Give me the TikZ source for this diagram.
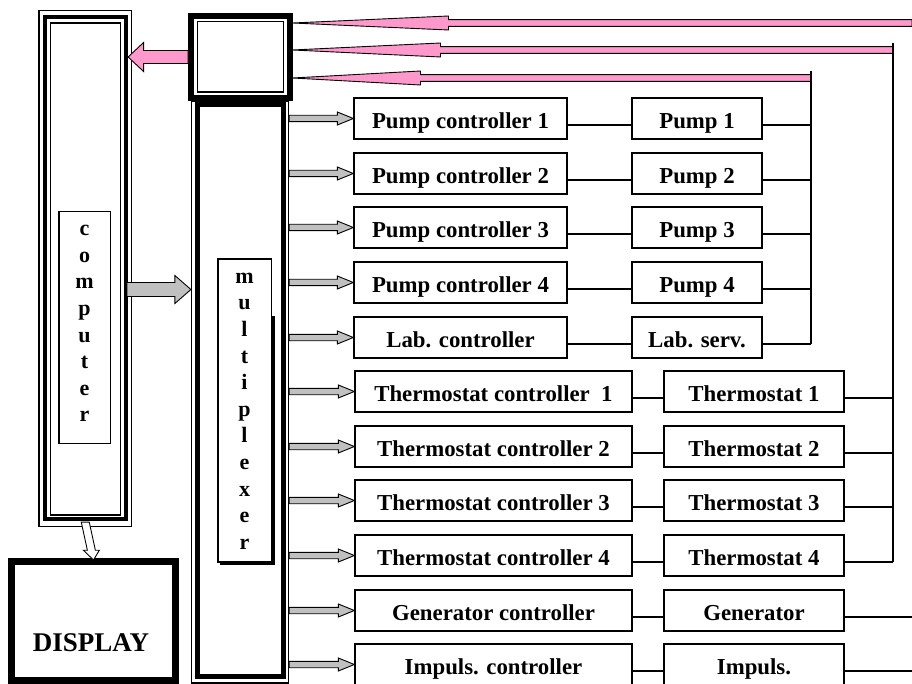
\documentclass[tikz,border=0pt]{standalone}
\usepackage{fontspec}
\setmainfont{Liberation Serif}
\usetikzlibrary{calc}
\definecolor{pinkA}{HTML}{FF99CC}
\definecolor{grayA}{HTML}{C0C0C0}
% horizontal block arrow: style, from, tip, shaft half, head half, head length
\newcommand{\blockarr}[6]{%
  \draw[#1] ($(#2)+(0,#4)$) -- ($(#3)!#6!(#2)+(0,#4)$) -- ($(#3)!#6!(#2)+(0,#5)$) -- (#3)
    -- ($(#3)!#6!(#2)+(0,-#5)$) -- ($(#3)!#6!(#2)+(0,-#4)$) -- ($(#2)+(0,-#4)$) -- cycle;}
% vertical block arrow
\newcommand{\vblockarr}[6]{%
  \draw[#1] ($(#2)+(#4,0)$) -- ($(#3)!#6!(#2)+(#4,0)$) -- ($(#3)!#6!(#2)+(#5,0)$) -- (#3)
    -- ($(#3)!#6!(#2)+(-#5,0)$) -- ($(#3)!#6!(#2)+(-#4,0)$) -- ($(#2)+(-#4,0)$) -- cycle;}
\begin{document}
\begin{tikzpicture}[x=1pt,y=-1pt,
  box/.style={draw, line width=1.3pt, inner sep=0pt, minimum height=41pt,
    text height=19.8pt, text depth=0pt, font=\fontsize{22.8}{26}\selectfont\bfseries},
  pctrl/.style={box, minimum width=213pt},
  pdev/.style={box, minimum width=130pt},
  tctrl/.style={box, minimum width=277pt},
  tdev/.style={box, minimum width=180pt},
  frame/.style={draw, inner sep=0pt},
  letter/.style={font=\fontsize{22}{24}\selectfont\bfseries, inner sep=0pt, anchor=base},
  link/.style={line width=1.5pt},
  grayarr/.style={fill=grayA, draw=black, line width=0.9pt},
  pinkarr/.style={fill=pinkA, draw=black, line width=0.9pt},
  whitearr/.style={fill=white, draw=black, line width=0.9pt}]
\useasboundingbox (0,0) rectangle (912,684);

% computer frame
\node[frame, line width=1.2pt, minimum width=92.5pt, minimum height=516pt] (compO) at (85.25,268.5) {};
\node[frame, line width=4pt, minimum width=80.8pt, minimum height=502pt] (compT) at (85.1,268) {};
\node[frame, line width=1.8pt, minimum width=70pt, minimum height=492pt] (compI) at (85.5,269) {};
\node[frame, line width=1.5pt, minimum width=51.5pt, minimum height=231.5pt] (complab) at (84.5,327.5) {};
\foreach \ch [count=\k from 0] in {c,o,m,p,u,t,e,r}
  \node[letter] (cl\k) at (84.5,{236+26.5*\k}) {\ch};

% multiplexer top box
\node[frame, line width=6pt, minimum width=98.5pt, minimum height=82pt] (mtopO) at (240.25,57) {};
\node[frame, line width=1.5pt, minimum width=86pt, minimum height=70.5pt] (mtopI) at (240.5,56.75) {};

% multiplexer tall box
\node[frame, line width=1.2pt, minimum width=97pt, minimum height=582pt] (muxO) at (240,392) {};
\node[frame, line width=5.5pt, minimum width=86pt, minimum height=572pt] (muxT) at (240.5,390.5) {};
\fill[black] (220,316) rectangle (274.5,564.5);
\node[frame, fill=white, line width=1.5pt, minimum width=53.5pt, minimum height=303pt] (muxlab) at (244.5,410.5) {};
\foreach \ch [count=\k from 0] in {m,u,l,t,i,p,l,e,x,e,r}
  \node[letter] (ml\k) at (244.5,{283.3+26.6*\k}) {\ch};

% display
\node[frame, line width=7pt, minimum width=164pt, minimum height=119pt] (dispbox) at (93.5,621) {};
\node[font=\fontsize{27}{30}\selectfont\bfseries, inner sep=0pt, anchor=base] (disptext) at (91,651) {DISPLAY};

% rows
\foreach \i/\yy/\a/\b in {0/118.5/{Pump controller 1}/{Pump 1},1/173.5/{Pump controller 2}/{Pump 2},
    2/227.5/{Pump controller 3}/{Pump 3},3/282.5/{Pump controller 4}/{Pump 4},
    4/337.5/{Lab. controller\hspace{33pt}}/{Lab. serv.}}{
  \node[pctrl] (c\i) at (460.5,\yy) {\a};
  \node[pdev] (d\i) at (697,\yy) {\b};
}
\foreach \i/\yy/\a/\b in {5/391.5/{Thermostat controller\ \ 1}/{Thermostat 1},6/446.5/{Thermostat controller 2}/{Thermostat 2},
    7/500.5/{Thermostat controller 3}/{Thermostat 3},8/555.5/{Thermostat controller 4}/{Thermostat 4},
    9/610.5/{Generator controller}/{Generator},10/664.5/{Impuls. controller}/{Impuls.}}{
  \node[tctrl] (c\i) at (493.5,\yy) {\a};
  \node[tdev] (d\i) at (754,\yy) {\b};
}

% controller -> device links and gray arrows
\foreach \i in {0,...,10}{
  \draw[link] ([yshift=-6.5pt]c\i.east) -- ([yshift=-6.5pt]d\i.west);
  \coordinate (ga\i) at (muxO.east |- c\i.west);
  \blockarr{grayarr}{ga\i}{c\i.west}{3.2}{6.5}{16pt}
}

% pink feedback arrows and buses
\coordinate (pe1) at (912,23);
\coordinate (pe2) at (893,50);
\coordinate (pe3) at (811,78);
\coordinate (pt1) at (mtopO.east |- pe1);
\coordinate (pt2) at (mtopO.east |- pe2);
\coordinate (pt3) at (mtopO.east |- pe3);
\blockarr{pinkarr}{pe1}{pt1}{3.4}{7}{156pt}
\blockarr{pinkarr}{pe2}{pt2}{3.4}{7}{148pt}
\blockarr{pinkarr}{pe3}{pt3}{3.4}{7}{128pt}
\draw[link] ([yshift=7pt]pe3) -- ([yshift=-6.5pt]d4.east -| pe3);
\draw[link] ([yshift=7pt]pe2) -- ([yshift=-6.5pt]d8.east -| pe2);
\foreach \i in {0,...,4}
  \draw[link] ([yshift=-6.5pt]d\i.east) -- ([yshift=-6.5pt]d\i.east -| pe3);
\foreach \i in {5,...,8}
  \draw[link] ([yshift=-6.5pt]d\i.east) -- ([yshift=-6.5pt]d\i.east -| pe2);
\foreach \i in {9,10}
  \draw[link] ([yshift=-6.5pt]d\i.east) -- ([yshift=-6.5pt]d\i.east -| pe1);

% mux top -> computer pink arrow
\coordinate (cpS) at (mtopO.west);
\path (compO.east |- mtopO.west) ++(-4,0) coordinate (cpT);
\blockarr{pinkarr}{cpS}{cpT}{6.5}{14.5}{15.5pt}

% computer -> mux gray arrow
\coordinate (gmS) at (127,289.5);
\coordinate (gmT) at (muxO.west |- gmS);
\blockarr{grayarr}{gmS}{gmT}{7}{14}{16pt}

% computer -> display white arrow
\path (compO.south) ++(0,-5) coordinate (daS);
\path (dispbox.north) ++(0,2) coordinate (daT);
\vblockarr{whitearr}{daS}{daT}{4}{8}{10pt}
\end{tikzpicture}
\end{document}
